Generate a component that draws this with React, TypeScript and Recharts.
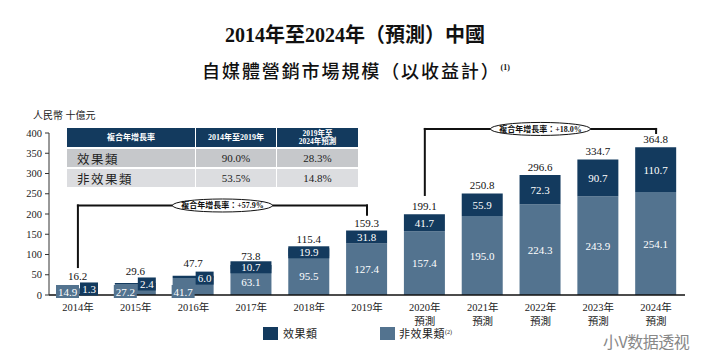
import React from "react"
import { BarChart, Bar, XAxis, YAxis, LabelList, ReferenceLine } from "recharts"

const years = ["2014年", "2015年", "2016年", "2017年", "2018年", "2019年", "2020年", "2021年", "2022年", "2023年", "2024年"]
const forecastNote = ["", "", "", "", "", "", "預測", "預測", "預測", "預測", "預測"]
const nonEffect = [14.9, 27.2, 41.7, 63.1, 95.5, 127.4, 157.4, 195.0, 224.3, 243.9, 254.1]
const effect = [1.3, 2.4, 6.0, 10.7, 19.9, 31.8, 41.7, 55.9, 72.3, 90.7, 110.7]
const totals = [16.2, 29.6, 47.7, 73.8, 115.4, 159.3, 199.1, 250.8, 296.6, 334.7, 364.8]
const yTicks = [0, 50, 100, 150, 200, 250, 300, 350, 400]

const cagrHeader = ["複合年增長率", "2014年至2019年", "2019年至\n2024年預測"]
const cagrRows = [
  ["效果類", "90.0%", "28.3%"],
  ["非效果類", "53.5%", "14.8%"],
]

const DARK = "#133a5e"
const LIGHT = "#53738f"
const SERIF = '"Liberation Serif", "Noto Sans CJK TC", serif'

const data = years.map((year, i) => ({
  year,
  nonEffect: nonEffect[i],
  effect: effect[i],
  total: totals[i],
}))

// label props differ a bit between versions, so read the rect from wherever it is
function rectOf(p: any) {
  const vb = p.viewBox && typeof p.viewBox.width === "number" ? p.viewBox : p
  return { x: Number(vb.x), y: Number(vb.y), w: Number(vb.width), h: Number(vb.height) }
}

const numStyle = { fontFamily: SERIF, fontSize: 11 }

function NonEffectLabel(p: any) {
  const { x, y, w, h } = rectOf(p)
  const i = p.index
  const darkPx = (effect[i] * h) / nonEffect[i]
  const txt = Number(p.value).toFixed(1)
  if (darkPx < 3.5) {
    const bottom = y + h
    return (
      <g>
        <rect x={x - 1} y={bottom - 10} width={23} height={13} fill={LIGHT} />
        <text x={x + 10.5} y={bottom - 3.5} textAnchor="middle" dominantBaseline="central" fill="#fff" style={numStyle}>
          {txt}
        </text>
      </g>
    )
  }
  return (
    <text x={x + w / 2} y={y + h / 2} textAnchor="middle" dominantBaseline="central" fill="#fff" style={numStyle}>
      {txt}
    </text>
  )
}

function EffectLabel(p: any) {
  const { x, y, w, h } = rectOf(p)
  const txt = Number(p.value).toFixed(1)
  if (h < 3.5) {
    const cy = y + h
    return (
      <g>
        <rect x={x + 23} y={cy - 6.5} width={18} height={13} fill={DARK} />
        <text x={x + 32} y={cy} textAnchor="middle" dominantBaseline="central" fill="#fff" style={numStyle}>
          {txt}
        </text>
      </g>
    )
  }
  const cy = y + h / 2
  return (
    <g>
      {h < 12 && <rect x={x} y={cy - 6} width={w} height={12} fill={DARK} />}
      <text x={x + w / 2} y={cy} textAnchor="middle" dominantBaseline="central" fill="#fff" style={numStyle}>
        {txt}
      </text>
    </g>
  )
}

function TotalLabel(p: any) {
  const { x, y, w, h } = rectOf(p)
  const off = h < 3.5 ? 12.5 : h < 12 ? 9.5 : 8
  return (
    <text x={x + w / 2} y={y - off} textAnchor="middle" dominantBaseline="central" fill="#111" style={numStyle}>
      {Number(p.value).toFixed(1)}
    </text>
  )
}

function YearTick({ x, y, payload }: any) {
  const i = years.indexOf(payload.value)
  return (
    <g style={{ fontFamily: SERIF, fontSize: 10.5 }} fill="#222">
      <text x={x} y={y + 12.5} textAnchor="middle" dominantBaseline="central">
        {payload.value}
      </text>
      {forecastNote[i] && (
        <text x={x} y={y + 26} textAnchor="middle" dominantBaseline="central">
          {forecastNote[i]}
        </text>
      )}
    </g>
  )
}

function CagrLabel(p: any) {
  const vb = p.viewBox || {}
  const cx = vb.x1 != null ? (vb.x1 + vb.x2) / 2 : vb.x + (vb.width || 0) / 2
  const cy = vb.y1 != null ? vb.y1 : vb.y + (vb.height || 0) / 2
  return (
    <g>
      <ellipse cx={cx} cy={cy} rx={50} ry={6.5} fill="#fff" stroke="#111" strokeWidth={1} />
      <text x={cx} y={cy + 0.5} textAnchor="middle" dominantBaseline="central" fill="#111"
        style={{ fontFamily: SERIF, fontSize: 8, fontWeight: 700 }}>
        {p.text}
      </text>
    </g>
  )
}

const bracket = { stroke: "#111", strokeWidth: 2, strokeLinecap: "square" as const, ifOverflow: "visible" as const }

function CagrTable() {
  const cols = "128px 80px 81px"
  return (
    <div style={{ position: "absolute", left: 67, top: 128, width: 291, display: "grid", gridTemplateColumns: cols, columnGap: 1, rowGap: 2 }}>
      {cagrHeader.map((t, i) => (
        <div key={i} style={{
          background: DARK, color: "#fff", height: 19, display: "flex", alignItems: "center", justifyContent: "center",
          fontFamily: SERIF, fontWeight: 700, fontSize: i === 2 ? 7.5 : 8, lineHeight: "8px", whiteSpace: "pre", textAlign: "center",
        }}>
          {t}
        </div>
      ))}
      {cagrRows.map((row, r) =>
        row.map((t, c) => (
          <div key={`${r}-${c}`} style={{
            background: r === 0 ? "#c6c8cb" : "#dcdde0", height: 18, display: "flex", alignItems: "center",
            justifyContent: c === 0 ? "flex-start" : "center", paddingLeft: c === 0 ? 10 : 0,
            fontFamily: SERIF, fontSize: c === 0 ? 12.5 : 11, letterSpacing: c === 0 ? 1.5 : 0, color: "#222",
          }}>
            {t}
          </div>
        ))
      )}
    </div>
  )
}

export default function App() {
  return (
    <div style={{ position: "relative", width: 717, height: 358, background: "#fff", overflow: "hidden" }}>
      <style>{`body{margin:0}`}</style>
      <div style={{ position: "absolute", left: 0, top: 23, width: 710, textAlign: "center", fontFamily: SERIF, fontSize: 20, fontWeight: 700, lineHeight: "24px", color: "#111" }}>
        2014年至2024年（預測）中國
      </div>
      <div style={{ position: "absolute", left: 0, top: 56, width: 712, textAlign: "center", fontFamily: SERIF, fontSize: 18, fontWeight: 500, letterSpacing: 1.9, lineHeight: "24px", color: "#111" }}>
        自媒體營銷市場規模（以收益計）
        <span style={{ fontSize: 8, fontWeight: 700, verticalAlign: 8, letterSpacing: 0 }}>(1)</span>
      </div>
      <div style={{ position: "absolute", left: 33, top: 107, fontFamily: SERIF, fontSize: 10, color: "#222", whiteSpace: "pre" }}>
        人民幣 十億元
      </div>

      <div style={{ position: "absolute", left: 0, top: 0 }}>
        <BarChart width={717} height={358} data={data} margin={{ top: 133, right: 32, bottom: 33, left: 9 }}>
          <XAxis dataKey="year" height={30} tickLine={false} tickSize={0} tickMargin={0} interval={0}
            axisLine={{ stroke: "#111", strokeWidth: 1.5 }} tick={<YearTick />} />
          <YAxis width={40} domain={[0, 400]} ticks={yTicks} tickSize={4} tickMargin={3}
            axisLine={{ stroke: "#333" }} tickLine={{ stroke: "#333" }}
            tick={{ fontSize: 10.5, fill: "#222", fontFamily: SERIF }} />
          <Bar dataKey="nonEffect" stackId="s" fill={LIGHT} barSize={41} isAnimationActive={false}>
            <LabelList dataKey="nonEffect" content={<NonEffectLabel />} />
          </Bar>
          <Bar dataKey="effect" stackId="s" fill={DARK} barSize={41} isAnimationActive={false}>
            <LabelList dataKey="effect" content={<EffectLabel />} />
            <LabelList dataKey="total" content={<TotalLabel />} />
          </Bar>

          <ReferenceLine segment={[{ x: "2014年", y: 69 }, { x: "2014年", y: 221 }]} {...bracket} />
          <ReferenceLine segment={[{ x: "2014年", y: 221 }, { x: "2019年", y: 221 }]} {...bracket}
            label={<CagrLabel text="複合年增長率：+57.9%" />} />
          <ReferenceLine segment={[{ x: "2019年", y: 221 }, { x: "2019年", y: 198 }]} {...bracket} />

          <ReferenceLine segment={[{ x: "2020年", y: 247 }, { x: "2020年", y: 410 }]} {...bracket} />
          <ReferenceLine segment={[{ x: "2020年", y: 410 }, { x: "2024年", y: 410 }]} {...bracket}
            label={<CagrLabel text="複合年增長率：+18.0%" />} />
          <ReferenceLine segment={[{ x: "2024年", y: 410 }, { x: "2024年", y: 400 }]} {...bracket} />
        </BarChart>
      </div>

      <CagrTable />

      <div style={{ position: "absolute", left: 263, top: 327, width: 15, height: 13, background: DARK }} />
      <div style={{ position: "absolute", left: 283, top: 325, fontFamily: SERIF, fontSize: 11, color: "#222", letterSpacing: 0.5 }}>效果類</div>
      <div style={{ position: "absolute", left: 380, top: 327, width: 15, height: 13, background: LIGHT }} />
      <div style={{ position: "absolute", left: 399, top: 325, fontFamily: SERIF, fontSize: 11, color: "#222", letterSpacing: 0.5 }}>
        非效果類<span style={{ fontSize: 6, verticalAlign: 4, letterSpacing: 0 }}>(2)</span>
      </div>

      <div style={{ position: "absolute", left: 603, top: 333, fontFamily: '"Noto Sans CJK SC", sans-serif', fontSize: 16, lineHeight: "16px", color: "#888", letterSpacing: -0.5 }}>
        小V数据透视
      </div>
    </div>
  )
}
